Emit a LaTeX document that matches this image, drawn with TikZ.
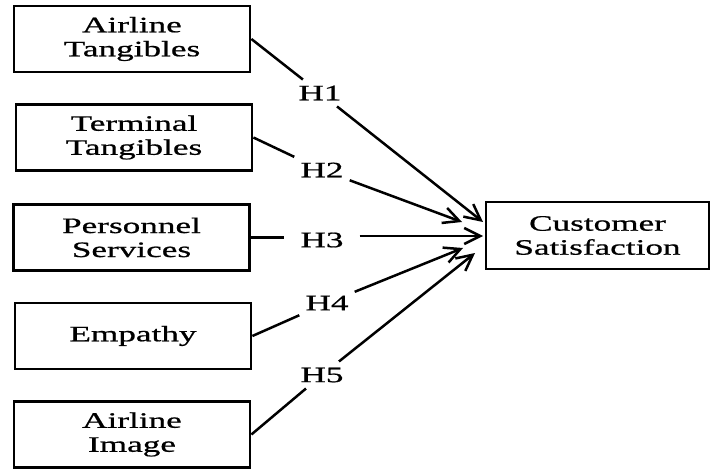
\documentclass[tikz,border=0pt]{standalone}
\usepackage{fontspec}
\setmainfont{Liberation Serif}[FakeStretch=1.6,FakeBold=0.8]
\usetikzlibrary{arrows.meta}
\begin{document}
\begin{tikzpicture}[x=1pt,y=-1pt,
  factor/.style={draw,line width=2.8pt,minimum width=236pt,minimum height=66pt,
    inner sep=0pt,align=center,font=\fontsize{22}{24}\selectfont},
  hyp/.style={inner sep=6pt,font=\fontsize{22}{24}\selectfont},
  link/.style={line width=2.5pt},
  path/.style={line width=2.5pt,-{Straight Barb[length=16pt,width=16pt,line width=2.5pt]}}]
\useasboundingbox (0,0) rectangle (711,470);
% predictor boxes
\node[factor] (b1) at (132,39) {Airline\\Tangibles};
\node[factor] (b2) at (134,137.5) {Terminal\\Tangibles};
\node[factor] (b3) at (131.5,237.5) {Personnel\\Services};
\node[factor] (b4) at (133,336) {Empathy};
\node[factor] (b5) at (132,434.5) {Airline\\Image};
% outcome box
\node[factor,minimum width=223pt,minimum height=67pt] (cs) at (597.5,235.5) {Customer\\Satisfaction};
% hypothesis labels
\node[hyp] (h1) at (320,93) {H1};
\node[hyp] (h2) at (322,170) {H2};
\node[hyp,inner xsep=16pt] (h3) at (322,240) {H3};
\node[hyp] (h4) at (327,303) {H4};
\node[hyp] (h5) at (322,375) {H5};
% arrow tips in front of the outcome box
\coordinate (t1) at (483,222);
\coordinate (t2) at (462,222);
\coordinate (t3) at (483,236);
\coordinate (t4) at (463,248);
\coordinate (t5) at (475,253);
% paths
\draw[link] (b1.east) -- (h1);
\draw[path] (h1) -- (t1);
\draw[link] (b2.east) -- (h2);
\draw[path] (h2) -- (t2);
\draw[link] (b3.east) -- (b3.east -| h3.west);
\draw[path] (h3.east |- t3) -- (t3);
\draw[link] (b4.east) -- (h4);
\draw[path] (h4) -- (t4);
\draw[link] (b5.east) -- (h5);
\draw[path] (h5) -- (t5);
\end{tikzpicture}
\end{document}
